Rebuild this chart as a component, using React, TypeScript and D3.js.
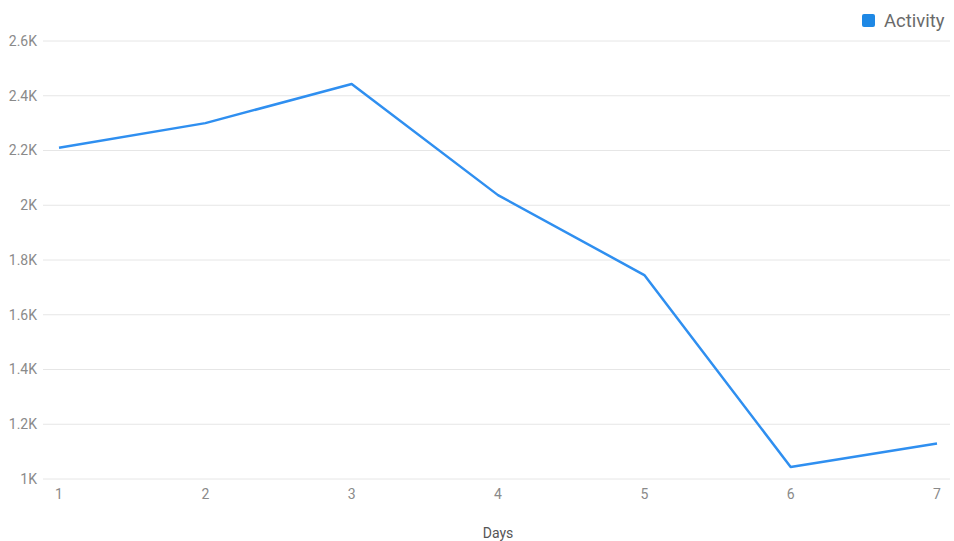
import React from "react";
import * as d3 from "d3";

const days = [1, 2, 3, 4, 5, 6, 7];
const activity = [2210, 2300, 2443, 2037, 1745, 1044, 1130];
const yTicks = [1000, 1200, 1400, 1600, 1800, 2000, 2200, 2400, 2600];
const seriesName = "Activity";
const xTitle = "Days";

const W = 954;
const H = 541;
const left = 43;
const right = 950;
const xFirst = 59;
const xLast = 937;
const top = 41;
const bottom = 479;

const fmt = (v: number) => (v >= 1000 ? `${+(v / 1000).toFixed(1)}K` : `${v}`);

export default function App() {
  const x = d3.scaleLinear().domain([1, 7]).range([xFirst, xLast]);
  const y = d3.scaleLinear().domain([1000, 2600]).range([bottom, top]);
  const line = d3
    .line<number>()
    .x((_, i) => x(days[i]))
    .y((d) => y(d));
  const font = "Roboto, 'Noto Sans', sans-serif";
  return (
    <svg
      width={W}
      height={H}
      style={{ position: "absolute", left: 0, top: 0, background: "#fff" }}
      fontFamily={font}
    >
      {yTicks.map((t) => (
        <g key={t}>
          <line x1={left} x2={right} y1={y(t)} y2={y(t)} stroke="#e6e6e6" strokeWidth={1} />
          <text x={37} y={y(t)} dy="0.35em" textAnchor="end" fontSize={14} fill="#8a8a8a">
            {fmt(t)}
          </text>
        </g>
      ))}
      {days.map((d) => (
        <text key={d} x={x(d)} y={494} dy="0.35em" textAnchor="middle" fontSize={14} fill="#8a8a8a">
          {d}
        </text>
      ))}
      <text x={498} y={533} dy="0.35em" textAnchor="middle" fontSize={14} fill="#555">
        {xTitle}
      </text>
      <path d={line(activity) ?? ""} fill="none" stroke="#2f8ff0" strokeWidth={2.5} strokeLinejoin="round" />
      <rect x={862} y={14} width={13} height={13} rx={2} fill="#1e88e5" />
      <text x={884} y={21} dy="0.35em" fontSize={18.5} fill="#6a6a6a">
        {seriesName}
      </text>
    </svg>
  );
}
